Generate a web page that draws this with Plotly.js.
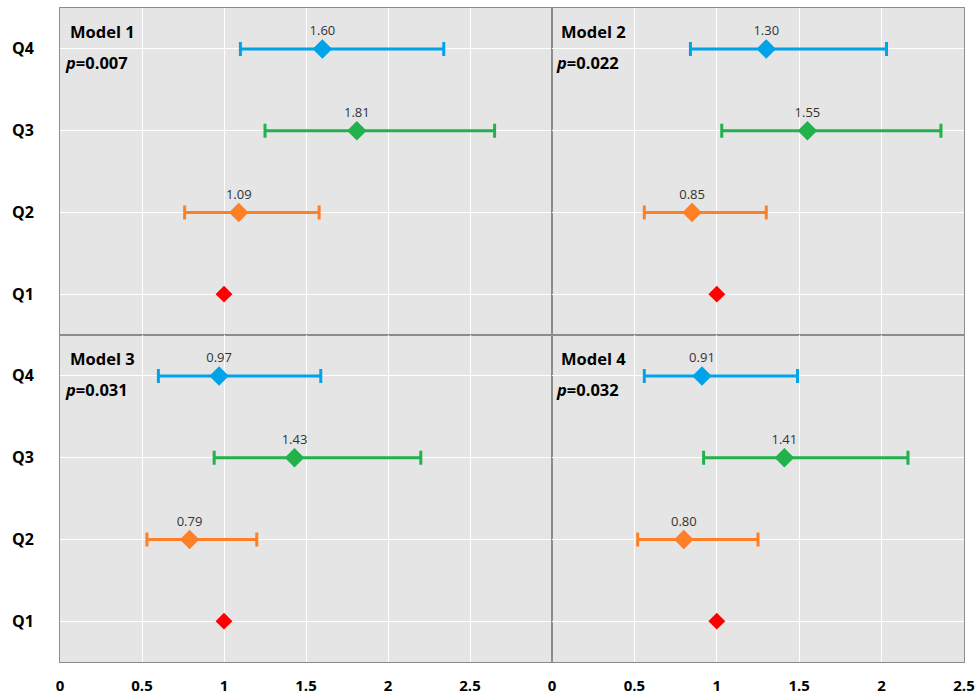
<!DOCTYPE html>
<html>
<head>
<meta charset="utf-8">
<script src="https://cdn.plot.ly/plotly-3.0.1.min.js"></script>
<style>html,body{margin:0;padding:0;background:#fff;}#chart{width:978px;height:698px;}</style>
</head>
<body>
<div id="chart"></div>
<script>
const categories = ['Q1', 'Q2', 'Q3', 'Q4'];
const models = ['Model 1', 'Model 2', 'Model 3', 'Model 4'];
const pValues = ['0.007', '0.022', '0.031', '0.032'];
const xTicks = [0, 0.5, 1, 1.5, 2, 2.5];

const est1 = [1, 1.09, 1.81, 1.60];
const lo1  = [1, 0.76, 1.25, 1.10];
const hi1  = [1, 1.58, 2.65, 2.34];

const est2 = [1, 0.85, 1.55, 1.30];
const lo2  = [1, 0.56, 1.03, 0.84];
const hi2  = [1, 1.30, 2.36, 2.03];

const est3 = [1, 0.79, 1.43, 0.97];
const lo3  = [1, 0.53, 0.94, 0.60];
const hi3  = [1, 1.20, 2.20, 1.59];

const est4 = [1, 0.80, 1.41, 0.91];
const lo4  = [1, 0.52, 0.92, 0.56];
const hi4  = [1, 1.25, 2.16, 1.49];

const colors = ['#FF0000', '#FF7F27', '#22B14C', '#00A2E8'];

const FONT = 'Open Sans, Noto Sans, sans-serif';
const modelData = [[est1, lo1, hi1], [est2, lo2, hi2], [est3, lo3, hi3], [est4, lo4, hi4]];

const traces = [];
modelData.forEach((md, m) => {
  const [est, lo, hi] = md;
  const sfx = m === 0 ? '' : String(m + 1);
  categories.forEach((cat, q) => {
    const t = {
      type: 'scatter',
      x: [est[q]],
      y: [cat],
      xaxis: 'x' + sfx,
      yaxis: 'y' + sfx,
      showlegend: false,
      hoverinfo: 'x+y',
      marker: {symbol: 'diamond', size: q === 0 ? 13 : 15, color: colors[q]},
      cliponaxis: false
    };
    if (q === 0) {
      t.mode = 'markers';
    } else {
      t.mode = 'markers+text';
      t.text = [est[q].toFixed(2)];
      t.textposition = 'top center';
      t.textfont = {family: FONT, size: 13, color: '#333333'};
      t.error_x = {
        type: 'data', symmetric: false,
        array: [hi[q] - est[q]], arrayminus: [est[q] - lo[q]],
        color: colors[q], thickness: 3, width: 7
      };
    }
    traces.push(t);
  });
});

const split = 492 / 904;
function xax(domain, range, showLabels, anchor) {
  return {
    domain: domain, range: range, anchor: anchor,
    tickvals: xTicks, ticktext: xTicks.map(String),
    showticklabels: showLabels, ticks: '',
    tickfont: {family: FONT, size: 15, color: '#000', weight: 'bold'},
    ticklabelstandoff: 10,
    showgrid: true, gridcolor: '#FFFFFF', gridwidth: 1,
    zeroline: false,
    showline: true, mirror: true, linecolor: '#8C8C8C', linewidth: 1
  };
}
function yax(domain, showLabels, anchor) {
  return {
    domain: domain, anchor: anchor,
    type: 'category', categoryorder: 'array', categoryarray: categories,
    range: [-0.5, 3.5],
    showticklabels: showLabels, ticks: '',
    tickfont: {family: FONT, size: 16, color: '#000', weight: 'bold'},
    ticklabelstandoff: 22,
    showgrid: true, gridcolor: '#FFFFFF', gridwidth: 1,
    zeroline: false,
    showline: true, mirror: true, linecolor: '#8C8C8C', linewidth: 1
  };
}

const annotations = [];
models.forEach((name, m) => {
  const sfx = m === 0 ? '' : String(m + 1);
  annotations.push({
    xref: 'x' + sfx + ' domain', yref: 'y' + sfx + ' domain',
    x: 0.016, y: 0.927, xanchor: 'left', yanchor: 'middle',
    text: '<b>' + name + '</b>', showarrow: false,
    font: {family: FONT, size: 16.5, color: '#000'}
  });
  annotations.push({
    xref: 'x' + sfx + ' domain', yref: 'y' + sfx + ' domain',
    x: 0.006, y: 0.832, xanchor: 'left', yanchor: 'middle',
    text: '<b><i>p</i>=' + pValues[m] + '</b>', showarrow: false,
    font: {family: FONT, size: 16.5, color: '#000'}
  });
});

const layout = {
  width: 978, height: 698,
  margin: {l: 60, r: 14, t: 8, b: 36},
  paper_bgcolor: '#FFFFFF',
  plot_bgcolor: '#E5E5E5',
  font: {family: FONT},
  xaxis:  xax([0, split], [0, 3], false, 'y'),
  yaxis:  yax([0.5, 1], true, 'x'),
  xaxis2: xax([split, 1], [0, 2.5], false, 'y2'),
  yaxis2: yax([0.5, 1], false, 'x2'),
  xaxis3: xax([0, split], [0, 3], true, 'y3'),
  yaxis3: yax([0, 0.5], true, 'x3'),
  xaxis4: xax([split, 1], [0, 2.5], true, 'y4'),
  yaxis4: yax([0, 0.5], false, 'x4'),
  annotations: annotations
};

Plotly.newPlot('chart', traces, layout, {displayModeBar: false, staticPlot: true});
</script>
</body>
</html>
